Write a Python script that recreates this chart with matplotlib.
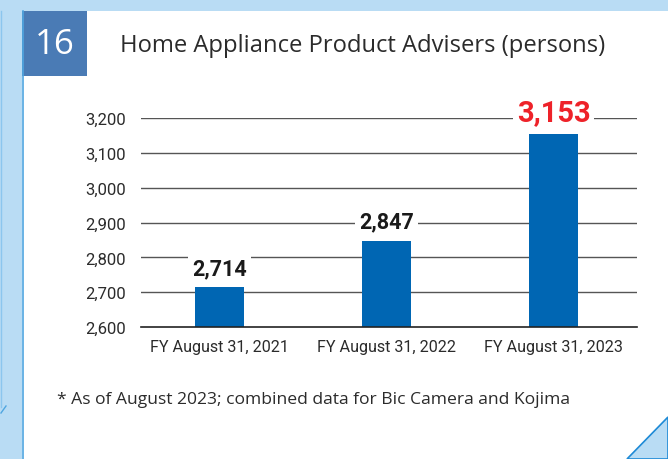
import matplotlib
matplotlib.use("Agg")
import matplotlib.pyplot as plt
from matplotlib.patches import Rectangle, Polygon

# Chart data
categories = ["FY August 31, 2021", "FY August 31, 2022", "FY August 31, 2023"]
advisers = [2714, 2847, 3153]
y_ticks = [2600, 2700, 2800, 2900, 3000, 3100, 3200]
title = "Home Appliance Product Advisers (persons)"
chart_no = "16"
footnote = "* As of August 2023; combined data for Bic Camera and Kojima"

W, H = 668, 460
LIGHT_BLUE = "#b9dcf4"
EDGE_BLUE = "#4fa6e0"
BAR_BLUE = "#0066b3"
RED = "#ee2229"
TEXT = "#2b2b2b"

fig = plt.figure(figsize=(W / 100, H / 100), dpi=100)
fig.patch.set_facecolor(LIGHT_BLUE)

# Background panel drawn in pixel coordinates
bg = fig.add_axes([0, 0, 1, 1], zorder=0)
bg.set_xlim(0, W)
bg.set_ylim(H, 0)
bg.axis("off")
bg.add_patch(Rectangle((22, 12), W - 22, H - 12, facecolor="white", edgecolor="none"))
bg.plot([22.5, 22.5], [12, H], color=EDGE_BLUE, lw=1.2)
bg.plot([1, 1], [12, 408], color="#8cc6ee", lw=1.0)
bg.plot([1, 6], [414, 407], color=EDGE_BLUE, lw=1.0)
bg.add_patch(Polygon([(627, H), (W, 418), (W, H)], closed=True,
                     facecolor=LIGHT_BLUE, edgecolor="#1e8ad6", lw=1.2))
bg.add_patch(Rectangle((22, 12), 65, 65, facecolor="#4a7bb5", edgecolor="none"))
bg.text(54.5, 45, chart_no, color="white", fontsize=25, family="Open Sans",
        ha="center", va="center")
bg.text(120, 46, title, color=TEXT, fontsize=17.1, family="Open Sans",
        ha="left", va="center")
bg.text(57, 400, footnote, color=TEXT, fontsize=12.6, family="Open Sans",
        ha="left", va="center")

# Main bar chart
ax = fig.add_axes([141 / W, 1 - 328 / H, (637 - 141) / W, (328 - 119) / H], zorder=1)
ax.set_facecolor("none")
x = list(range(len(categories)))
ax.bar(x, advisers, width=0.295, color=BAR_BLUE, zorder=2)
ax.set_xlim(-0.47, 2.5)
ax.set_ylim(2600, 3200)
ax.set_yticks(y_ticks)
ax.set_yticklabels([f"{v:,}" for v in y_ticks])
ax.set_xticks(x)
ax.set_xticklabels(categories)
for v in y_ticks[1:]:
    ax.axhline(v, color="#555555", lw=1.0, zorder=1)
for s in ["top", "right", "left"]:
    ax.spines[s].set_visible(False)
ax.spines["bottom"].set_color("#222222")
ax.spines["bottom"].set_linewidth(1.2)
ax.tick_params(axis="both", length=0, colors=TEXT)
ax.tick_params(axis="y", pad=11, labelsize=12)
ax.tick_params(axis="x", pad=9, labelsize=11.6)
for lab in ax.get_xticklabels() + ax.get_yticklabels():
    lab.set_family("Roboto")
    lab.set_color(TEXT)

for i, v in enumerate(advisers):
    last = i == len(advisers) - 1
    ax.annotate(f"{v:,}", (i, v), xytext=(0, 6), textcoords="offset points",
                ha="center", va="bottom", family="Roboto", fontweight="bold",
                fontsize=21 if last else 15.5, color=RED if last else "#1a1a1a",
                annotation_clip=False, zorder=3,
                bbox=dict(facecolor="white", edgecolor="none", pad=3))

fig.savefig("out.png", dpi=100, facecolor=fig.get_facecolor())
